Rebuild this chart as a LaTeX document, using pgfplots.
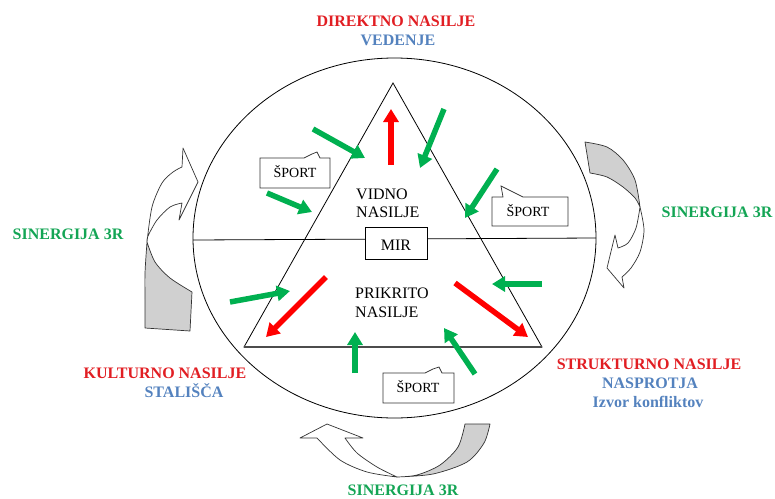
\documentclass[border=0pt]{standalone}
\usepackage{pgfplots}
\pgfplotsset{compat=1.18}
\usepackage{fontspec}
\setmainfont{Liberation Serif}
\usetikzlibrary{arrows.meta}
\definecolor{cred}{RGB}{225,30,35}
\definecolor{cblue}{RGB}{84,130,190}
\definecolor{cgreen}{RGB}{20,165,85}
\definecolor{agreen}{RGB}{0,176,80}
\definecolor{ared}{RGB}{255,0,0}
\definecolor{cgray}{RGB}{208,208,208}
\begin{document}
\begin{tikzpicture}[
  lab/.style={font=\fontsize{16}{18}\selectfont\bfseries, anchor=base, inner sep=0pt},
  txt/.style={font=\fontsize{16}{18}\selectfont, anchor=base west, inner sep=0pt},
  sp/.style={font=\fontsize{14}{16}\selectfont, anchor=base, inner sep=0pt},
  garrow/.style={agreen, line width=5.5pt, -{Triangle[width=15pt,length=13pt]}},
  rarrow/.style={ared, line width=5.5pt, -{Triangle[width=15pt,length=13pt]}},
  cshape/.style={draw=black!80, line width=0.7pt, line join=round}
]
\begin{axis}[scale only axis, width=775pt, height=498pt,
  xmin=0, xmax=775, ymin=0, ymax=498, y dir=reverse,
  axis lines=none, clip=false]

% full canvas (keeps the picture 775 x 498)
\path (0,0) rectangle (775,498);

% ellipse
\draw[black, line width=0.8pt] (394.5,238) ellipse [x radius=201.5pt, y radius=180pt];
% horizontal line
\addplot[black, line width=0.8pt] coordinates {(193,240) (596,238)};
% triangle
\draw[black, line width=0.8pt, line join=miter] (393,83) -- (244,347) -- (542,347) -- cycle;
\addplot[black!70, line width=1.3pt] coordinates {(244,347) (542,347)};

% MIR box
\filldraw[fill=white, draw=black, line width=0.8pt] (365,227) rectangle (427,259);
\node[lab, font=\fontsize{16}{18}\selectfont] at (396,250) {MIR};

% left curved arrow
\filldraw[cshape, fill=white] (147,242) -- plot[smooth] coordinates {(147,242) (152,207) (162,183) (173,172) (182,167)}
  -- (183,148) -- (198,182) -- (179,220) -- (182,203)
  -- plot[smooth] coordinates {(182,203) (170,207) (157,220) (148,236) (147,242)} -- cycle;
\filldraw[cshape, fill=cgray] (147,242) -- plot[smooth] coordinates {(147,242) (145,273) (145,300) (145,328)}
  -- (190,331) -- (192,292)
  -- plot[smooth] coordinates {(192,292) (170,278) (155,262) (147,242)} -- cycle;

% right curved arrow
\filldraw[cshape, fill=cgray] (585,142) -- plot[smooth] coordinates {(585,142) (607,147) (623,160) (635,180) (640,207)}
  -- plot[smooth] coordinates {(640,207) (635,198) (623,187) (607,177) (590,173)} -- cycle;
\filldraw[cshape, fill=white] (640,207) -- plot[smooth] coordinates {(640,207) (644,230) (640,252) (631,268) (622,277)}
  -- (624,288) -- (607,268) -- (615,235) -- (618,248)
  -- plot[smooth] coordinates {(618,248) (628,243) (636,228) (640,207)} -- cycle;

% bottom curved arrow
\filldraw[cshape, fill=white] (300,438) -- (327,424) -- (363,438) -- (345,438)
  -- plot[smooth] coordinates {(345,438) (357,453) (377,467) (397,477)}
  -- plot[smooth] coordinates {(397,477) (367,472) (340,460) (317,438)} -- cycle;
\filldraw[cshape, fill=cgray] (397,477) -- plot[smooth] coordinates {(397,477) (433,474) (467,462) (484,443) (490,424)}
  -- (465,424) -- plot[smooth] coordinates {(465,424) (458,447) (440,465) (417,475) (397,477)} -- cycle;

% SPORT callouts
\filldraw[fill=white, draw=black!80, line width=0.7pt]
  (260,158) -- (304,158) -- (312,154) -- (317,152) -- (320,158) -- (330,158) -- (330,188) -- (260,188) -- cycle;
\node[sp] at (295,177) {ŠPORT};
\filldraw[fill=white, draw=black!80, line width=0.7pt]
  (492,197) -- (503,197) -- (501,186) -- (523,197) -- (568,197) -- (568,226) -- (492,226) -- cycle;
\node[sp] at (528,216) {ŠPORT};
\filldraw[fill=white, draw=black!80, line width=0.7pt]
  (383,373) -- (425,373) -- (433,369) -- (439,367) -- (442,373) -- (454,373) -- (454,403) -- (383,403) -- cycle;
\node[sp] at (418,392) {ŠPORT};

% arrows
\addplot[garrow] coordinates {(313,129) (365,158)};
\addplot[garrow] coordinates {(444,109) (420,168)};
\addplot[garrow] coordinates {(267,193) (312,212)};
\addplot[garrow] coordinates {(497,169) (465,218)};
\addplot[rarrow] coordinates {(391,165) (391,109)};
\addplot[garrow] coordinates {(230,302) (290,291)};
\addplot[garrow] coordinates {(542,284) (492,284)};
\addplot[garrow] coordinates {(355,373) (355,332)};
\addplot[garrow] coordinates {(475,374) (444,328)};
\addplot[rarrow] coordinates {(326,277) (266,337)};
\addplot[rarrow] coordinates {(455,283) (528,337)};

% inner texts
\node[txt] at (356,199) {VIDNO};
\node[txt] at (356,217) {NASILJE};
\node[txt] at (355,298) {PRIKRITO};
\node[txt] at (355,317) {NASILJE};

% outer labels
\node[lab, cred] at (396,26) {DIREKTNO NASILJE};
\node[lab, cblue] at (398,45) {VEDENJE};
\node[lab, cgreen] at (68,239) {SINERGIJA 3R};
\node[lab, cgreen] at (717,217) {SINERGIJA 3R};
\node[lab, cgreen] at (403,495) {SINERGIJA 3R};
\node[lab, cred] at (165,378) {KULTURNO NASILJE};
\node[lab, cblue] at (184,397) {STALIŠČA};
\node[lab, cred] at (649,369) {STRUKTURNO NASILJE};
\node[lab, cblue] at (650,388) {NASPROTJA};
\node[lab, cblue] at (648,407) {Izvor konfliktov};
\end{axis}
\end{tikzpicture}
\end{document}
